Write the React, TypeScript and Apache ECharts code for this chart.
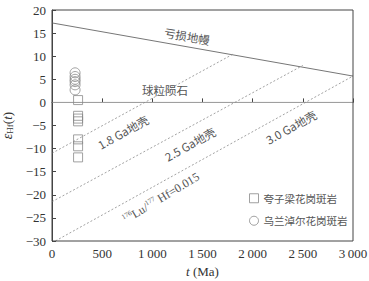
import React, { useEffect, useRef } from "react";
import * as echarts from "echarts";

// Data
const kuaziliangT = [260, 260, 260, 260, 260, 260, 260];
const kuaziliangE = [0.5, -2.9, -3.5, -4.1, -8.0, -9.5, -11.9];
const wulanT = [230, 230, 230, 230, 230, 230];
const wulanE = [6.4, 5.6, 5.0, 4.5, 3.8, 2.7];

const dmT = [0, 3000];
const dmE = [17.2, 5.7];
const chondriteT = [0, 3000];
const chondriteE = [0, 0];
const crust18T = [0, 1800];
const crust18E = [-11.0, 10.4];
const crust25T = [0, 2500];
const crust25E = [-21.5, 8.0];
const crust30T = [0, 3000];
const crust30E = [-30.4, 5.7];

const xTicks = [0, 500, 1000, 1500, 2000, 2500, 3000];
const yTicks = [-30, -25, -20, -15, -10, -5, 0, 5, 10, 15, 20];

const seriesNames = ["夸子梁花岗斑岩", "乌兰淖尔花岗斑岩"];

const SERIF = "'Liberation Serif', 'Times New Roman', serif";
const CJK = "'Noto Sans CJK SC', sans-serif";
const GRAY = "#8a8a8a";
const AXIS = "#444";

const zip = (a: number[], b: number[]) => a.map((v, i) => [v, b[i]]);

const fmtX = (v: number) => {
  if (v >= 1000) {
    const s = String(v);
    return s.slice(0, s.length - 3) + "\u2009" + s.slice(s.length - 3);
  }
  return String(v);
};
const fmtY = (v: number) => (v < 0 ? "\u2212" + Math.abs(v) : String(v));

export default function App() {
  const ref = useRef<HTMLDivElement>(null);
  useEffect(() => {
    if (!ref.current) return;
    const chart = echarts.init(ref.current, undefined, { renderer: "svg" });
    const lineStyleBase = { color: GRAY, width: 1 };
    const deg = (d: number) => (d * Math.PI) / 180;
    const labelText = (x: number, y: number, text: string, rot: number, extra: any = {}) => ({
      type: "text",
      x,
      y,
      rotation: deg(rot),
      style: {
        text,
        fill: "#555",
        font: `11.5px ${CJK}`,
        align: "center",
        verticalAlign: "middle",
        ...extra,
      },
      z: 10,
    });
    chart.setOption({
      animation: false,
      grid: {
        left: 52,
        right: 16,
        top: 10,
        bottom: 40,
        containLabel: false,
        outerBoundsMode: "none",
        show: false,
      },
      xAxis: {
        type: "value",
        min: 0,
        max: 3000,
        interval: 500,
        name: "{i|t} (Ma)",
        nameLocation: "middle",
        nameGap: 19,
        nameTextStyle: {
          fontFamily: SERIF,
          fontSize: 13,
          color: "#333",
          verticalAlign: "top",
          rich: { i: { fontFamily: SERIF, fontSize: 13, fontStyle: "italic", color: "#333" } },
        },
        axisLine: { show: true, lineStyle: { color: AXIS, width: 1 } },
        axisTick: { show: true, inside: true, length: 4, lineStyle: { color: AXIS } },
        axisLabel: { fontFamily: SERIF, fontSize: 13, color: "#333", margin: 6, formatter: fmtX },
        splitLine: { show: false },
      },
      yAxis: {
        type: "value",
        min: -30,
        max: 20,
        interval: 5,
        name: "{e|ε}{s|Hf}{n|(}{i|t}{n|)}",
        nameLocation: "middle",
        nameRotate: 90,
        nameGap: 27,
        nameTextStyle: {
          fontFamily: SERIF,
          fontSize: 13,
          color: "#333",
          rich: {
            e: { fontFamily: SERIF, fontSize: 14, fontStyle: "italic", color: "#333" },
            s: { fontFamily: SERIF, fontSize: 9, color: "#333", verticalAlign: "bottom", padding: [6, 0, 0, 0] },
            n: { fontFamily: SERIF, fontSize: 13, color: "#333" },
            i: { fontFamily: SERIF, fontSize: 13, fontStyle: "italic", color: "#333" },
          },
        },
        axisLine: { show: true, onZero: false, lineStyle: { color: AXIS, width: 1 } },
        axisTick: { show: true, inside: true, length: 4, lineStyle: { color: AXIS } },
        axisLabel: { fontFamily: SERIF, fontSize: 13, color: "#333", margin: 6, formatter: fmtY },
        splitLine: { show: false },
      },
      legend: {
        orient: "vertical",
        left: 244,
        top: 188,
        itemWidth: 9,
        itemHeight: 9,
        itemGap: 12,
        textStyle: { fontFamily: CJK, fontSize: 10.5, color: "#555" },
        data: [
          { name: seriesNames[0], icon: "rect" },
          { name: seriesNames[1], icon: "circle" },
        ],
        itemStyle: { color: "#fff", borderColor: GRAY, borderWidth: 1 },
      },
      series: [
        {
          type: "line",
          data: zip(chondriteT, chondriteE),
          symbol: "none",
          lineStyle: { color: "#aaa", width: 1 },
          silent: true,
        },
        {
          type: "line",
          data: zip(dmT, dmE),
          symbol: "none",
          lineStyle: { ...lineStyleBase, color: "#777" },
          silent: true,
        },
        {
          type: "line",
          data: zip(crust18T, crust18E),
          symbol: "none",
          lineStyle: { ...lineStyleBase, type: [2, 2], width: 0.8 },
          silent: true,
        },
        {
          type: "line",
          data: zip(crust25T, crust25E),
          symbol: "none",
          lineStyle: { ...lineStyleBase, type: [2, 2], width: 0.8 },
          silent: true,
        },
        {
          type: "line",
          data: zip(crust30T, crust30E),
          symbol: "none",
          clip: true,
          lineStyle: { ...lineStyleBase, type: [2, 2], width: 0.8 },
          silent: true,
        },
        {
          name: seriesNames[0],
          type: "scatter",
          symbol: "rect",
          symbolSize: 9,
          data: zip(kuaziliangT, kuaziliangE),
          itemStyle: { color: "rgba(255,255,255,0)", borderColor: GRAY, borderWidth: 1 },
          z: 5,
        },
        {
          name: seriesNames[1],
          type: "scatter",
          symbol: "circle",
          symbolSize: 10,
          data: zip(wulanT, wulanE),
          itemStyle: { color: "rgba(255,255,255,0)", borderColor: GRAY, borderWidth: 1 },
          z: 5,
        },
      ],
      graphic: [
        {
          type: "rect",
          shape: { x: 52, y: 10, width: 301, height: 231 },
          style: { fill: "none", stroke: AXIS, lineWidth: 1 },
          silent: true,
          z: 20,
        },
        labelText(187, 36, "亏损地幔", -10),
        labelText(165, 90, "球粒陨石", 0),
        labelText(123, 132, "1.8 Ga地壳", 29),
        labelText(190, 144, "2.5 Ga地壳", 29),
        labelText(291, 127, "3.0 Ga地壳", 29),
        {
          type: "text",
          x: 161,
          y: 198,
          rotation: deg(31),
          z: 10,
          style: {
            text: "{s|176}{n|Lu/}{s|177}{n| Hf=0.015}",
            align: "center",
            verticalAlign: "middle",
            fill: "#555",
            rich: {
              s: { fontFamily: SERIF, fontSize: 7, fill: "#555", verticalAlign: "top", padding: [0, 0, 6, 0] },
              n: { fontFamily: SERIF, fontSize: 12, fill: "#555" },
            },
          },
        },
      ],
    });
    return () => chart.dispose();
  }, []);
  return <div ref={ref} style={{ position: "absolute", left: 0, top: 0, width: 369, height: 281 }} />;
}
